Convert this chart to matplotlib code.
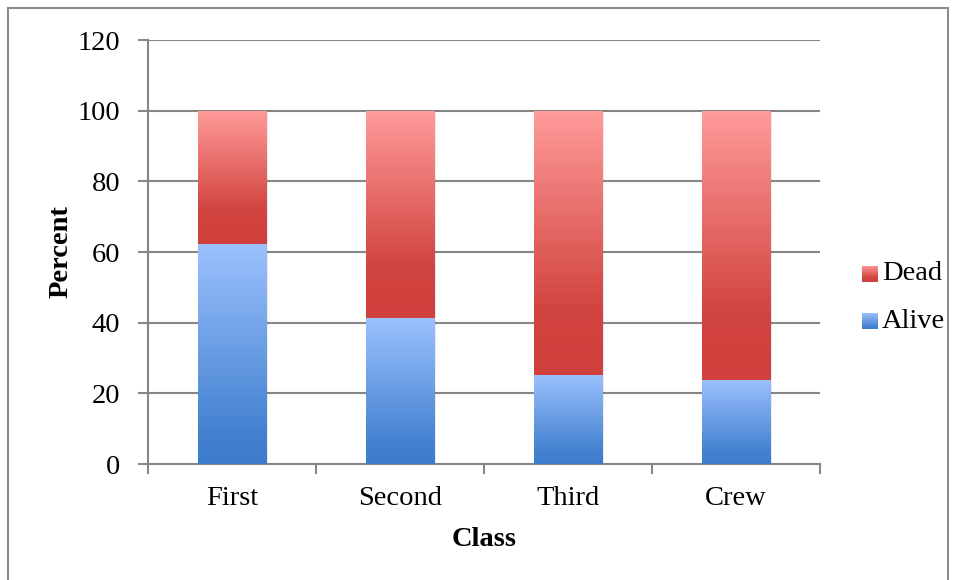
import numpy as np
import matplotlib.pyplot as plt
from matplotlib.colors import LinearSegmentedColormap
from matplotlib.patches import Rectangle

classes = ['First', 'Second', 'Third', 'Crew']
alive = [62.2, 41.3, 25.2, 23.8]
dead = [100 - a for a in alive]

plt.rcParams['font.family'] = ['Liberation Serif', 'DejaVu Serif']
FS = 20.5

blue_cm = LinearSegmentedColormap.from_list('b', [(0, '#3C7CCB'), (0.15, '#4482D0'), (1, '#9BC1FE')])
red_cm = LinearSegmentedColormap.from_list('r', [(0, '#D0403C'), (0.25, '#D2443F'), (1, '#FF9B9A')])

fig = plt.figure(figsize=(9.56, 5.8), dpi=100)
# outer chart border
fig.patches.append(Rectangle((8 / 956, -0.1), 940 / 956, 1.1 - 8 / 580, transform=fig.transFigure,
                             fill=False, edgecolor='#8C8C8C', linewidth=1.5))
ax = fig.add_axes([148 / 956, 1 - 464 / 580, 672 / 956, 424 / 580])

x = np.arange(len(classes))
width = 0.405
grad = np.linspace(0, 1, 256).reshape(-1, 1)

def gradient_bar(xc, bottom, height, cmap):
    # soft shadow
    ax.add_patch(Rectangle((xc - width / 2 + 0.012, bottom - 0.5), width, height, facecolor='#000000',
                           alpha=0.08, edgecolor='none', zorder=2))
    rect = Rectangle((xc - width / 2, bottom), width, height, facecolor='none', edgecolor='none', zorder=3)
    ax.add_patch(rect)
    im = ax.imshow(grad, cmap=cmap, origin='lower', aspect='auto', zorder=3,
                   extent=(xc - width / 2, xc + width / 2, bottom, bottom + height))
    im.set_clip_path(rect)

for i in range(len(classes)):
    gradient_bar(x[i], 0, alive[i], blue_cm)
    gradient_bar(x[i], alive[i], dead[i], red_cm)

ax.set_xlim(-0.5, len(classes) - 0.5)
ax.set_ylim(0, 120)
ax.set_yticks(np.arange(0, 121, 20))
ax.set_xticks(x)
ax.set_xticklabels(classes)
ax.set_xticks(np.arange(-0.5, len(classes), 1), minor=True)
ax.tick_params(axis='x', which='major', length=0, pad=16, labelsize=FS)
ax.tick_params(axis='x', which='minor', length=7, width=1.5, color='#868686')
ax.tick_params(axis='y', length=7, width=1.5, color='#868686', pad=13, labelsize=FS)
ax.grid(axis='y', color='#868686', linewidth=1.5, zorder=1)
ax.set_axisbelow(True)
for s in ['top', 'right']:
    ax.spines[s].set_visible(False)
for s in ['left', 'bottom']:
    ax.spines[s].set_color('#868686')
    ax.spines[s].set_linewidth(1.5)

ax.set_xlabel('Class', fontsize=FS, fontweight='bold', labelpad=11)
ax.set_ylabel('Percent', fontsize=FS, fontweight='bold', labelpad=3)

# legend with gradient swatches
for label, cmap, ypix in [('Dead', red_cm, 274), ('Alive', blue_cm, 321)]:
    sw = fig.add_axes([862 / 956, 1 - (ypix + 8) / 580, 16 / 956, 16 / 580])
    sw.imshow(grad, cmap=cmap, origin='lower', aspect='auto')
    sw.axis('off')
    fig.text(882 / 956, 1 - ypix / 580, label, fontsize=FS, va='center', ha='left')

fig.savefig('out.png', dpi=100)
